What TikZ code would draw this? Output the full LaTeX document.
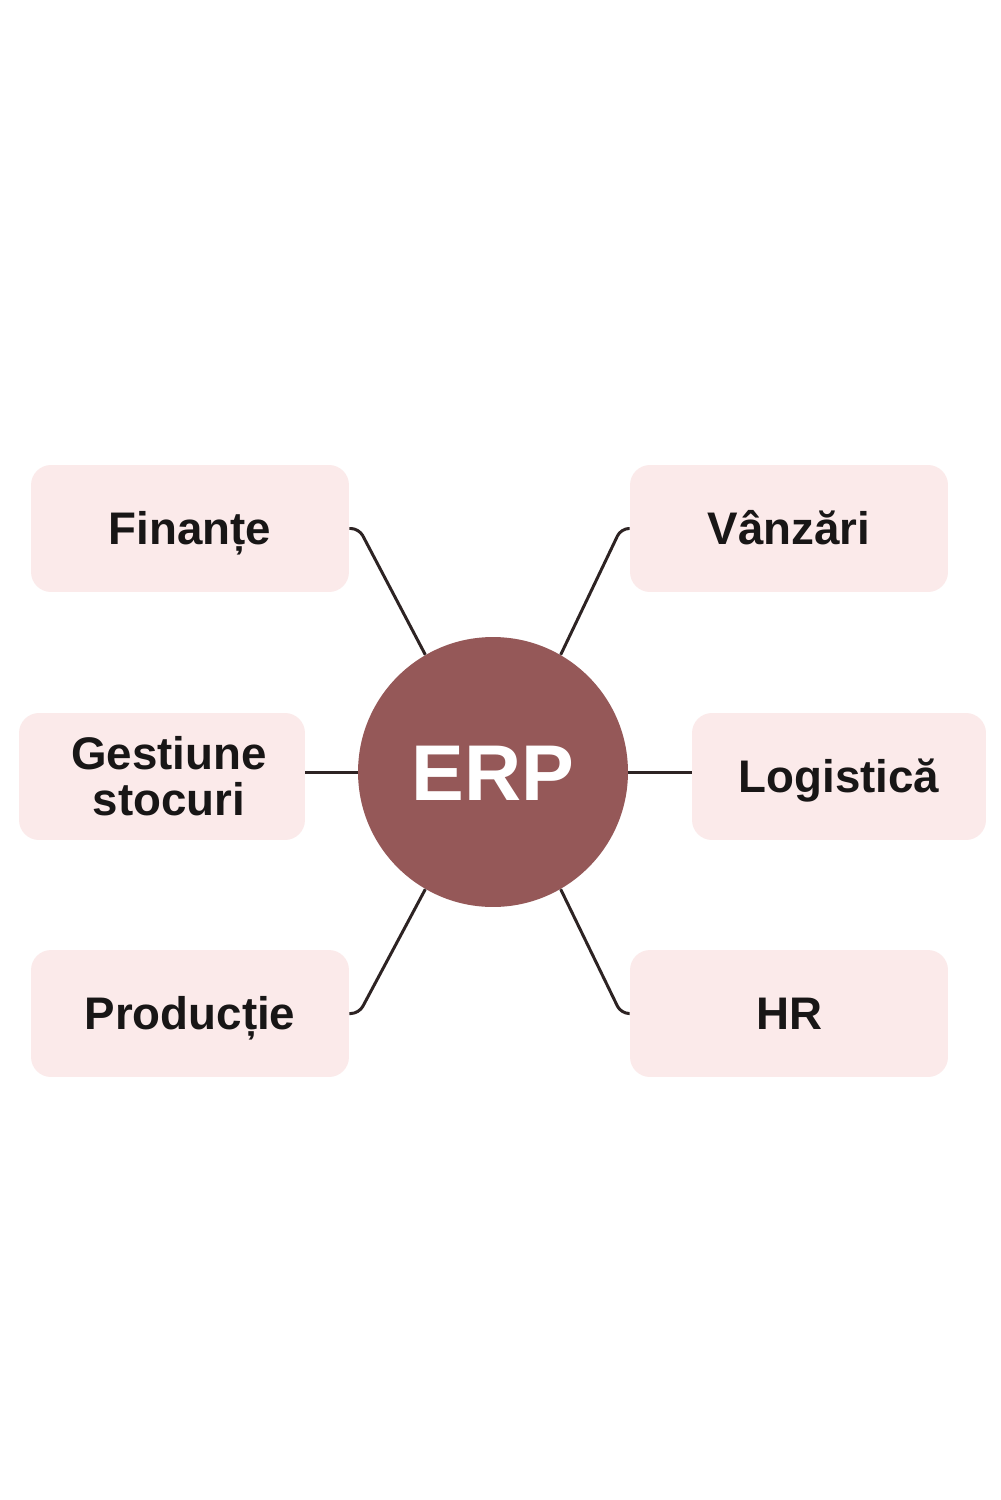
\documentclass[tikz,border=0pt]{standalone}
\usepackage{fontspec}
\setmainfont{Liberation Sans}
\definecolor{boxfill}{RGB}{251,234,234}
\definecolor{hubfill}{RGB}{149,88,88}
\definecolor{linkcol}{RGB}{45,35,35}
\definecolor{txt}{RGB}{24,22,22}
\begin{document}
\begin{tikzpicture}[x=0.02cm,y=-0.02cm,
  modbox/.style={rectangle, rounded corners=0.4cm, fill=boxfill, draw=none,
    minimum width=6.36cm, minimum height=2.54cm, inner sep=0pt,
    text=txt, font=\bfseries\fontsize{26}{26}\selectfont},
  oneline/.style={modbox, text height=18.6pt, text depth=0pt},
  twoline/.style={modbox, align=center},
  hub/.style={circle, fill=hubfill, draw=none, minimum size=5.4cm, inner sep=0pt,
    text=white, font=\bfseries\fontsize{45}{48}\selectfont, text height=32.2pt, text depth=0pt},
  link/.style={draw=linkcol, line width=1.7pt, rounded corners=0.16cm}]
\useasboundingbox[fill=white] (0,0) rectangle (1000,1500);
\node[hub] (erp) at (493,772) {ERP};
\node[oneline] (fin) at (190,528.5) {Finanțe};
\node[oneline] (van) at (789,528.5) {Vânzări};
\node[twoline, minimum width=5.72cm] (ges) at (162,776.5) {\hspace*{0.28cm}Gestiune\\\hspace*{0.28cm}stocuri};
\node[oneline, minimum width=5.88cm] (log) at (839,776.5) {Logistică};
\node[oneline] (pro) at (190,1013.5) {Producție};
\node[oneline] (hr) at (789,1013.5) {HR};
\coordinate (cfin) at (359,528.5);
\coordinate (cvan) at (621,528.5);
\coordinate (cpro) at (359,1013.5);
\coordinate (chr) at (621,1013.5);
\draw[link] (fin.east) -- (cfin) -- (erp.120);
\draw[link] (van.west) -- (cvan) -- (erp.60);
\draw[link] (pro.east) -- (cpro) -- (erp.240);
\draw[link] (hr.west) -- (chr) -- (erp.300);
\draw[link] (ges.east |- erp.center) -- (erp.west);
\draw[link] (log.west |- erp.center) -- (erp.east);
\end{tikzpicture}
\end{document}
